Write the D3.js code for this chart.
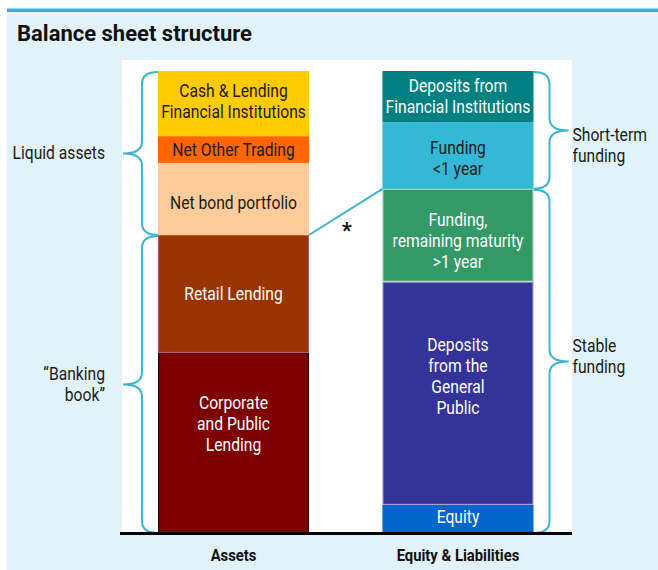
<!DOCTYPE html>
<html>
<head>
<meta charset="utf-8">
<script src="https://cdn.jsdelivr.net/npm/d3@7"></script>
<style>
  body { margin: 0; background: #fff; }
  svg text { font-family: Roboto, "Liberation Sans", sans-serif; }
</style>
</head>
<body>
<div id="root"></div>
<script>
// columns on the x axis
const columns = ['Assets', 'Equity & Liabilities'];

// assets, bottom to top (share of balance sheet, %)
const assetCategories = ['Corporate and Public Lending', 'Retail Lending', 'Net bond portfolio', 'Net Other Trading', 'Cash & Lending Financial Institutions'];
const assetValues = [39, 25.5, 15.6, 5.8, 14.1];
const assetLabels = [['Corporate', 'and Public', 'Lending'], ['Retail Lending'], ['Net bond portfolio'], ['Net Other Trading'], ['Cash & Lending', 'Financial Institutions']];

// equity & liabilities, bottom to top
const liabilityCategories = ['Equity', 'Deposits from the General Public', 'Funding, remaining maturity >1 year', 'Funding <1 year', 'Deposits from Financial Institutions'];
const liabilityValues = [6.1, 48.3, 20.1, 14.4, 11.1];
const liabilityLabels = [['Equity'], ['Deposits', 'from the', 'General', 'Public'], ['Funding,', 'remaining maturity', '>1 year'], ['Funding', '<1 year'], ['Deposits from', 'Financial Institutions']];

// brace groups (index range of segments)
const assetGroups = [{ lines: ['\u201CBanking', 'book\u201D'], first: 0, last: 1 }, { lines: ['Liquid assets'], first: 2, last: 4 }];
const liabilityGroups = [{ lines: ['Stable', 'funding'], first: 0, last: 2 }, { lines: ['Short-term', 'funding'], first: 3, last: 4 }];

const colors = {
  'Corporate and Public Lending': '#7f0000',
  'Retail Lending': '#993300',
  'Net bond portfolio': '#ffcc99',
  'Net Other Trading': '#ff6600',
  'Cash & Lending Financial Institutions': '#ffcc00',
  'Equity': '#0066cc',
  'Deposits from the General Public': '#333399',
  'Funding, remaining maturity >1 year': '#339966',
  'Funding <1 year': '#33b8d6',
  'Deposits from Financial Institutions': '#008080'
};
// thin outlines some of the blocks have in the original
const edges = {
  'Corporate and Public Lending': '#1a0000',
  'Retail Lending': '#b0507a',
  'Deposits from the General Public': '#a0a0dd',
  'Funding, remaining maturity >1 year': '#a8d8bc'
};
const darkText = ['Net bond portfolio', 'Net Other Trading', 'Cash & Lending Financial Institutions', 'Funding <1 year'];
// small vertical tweaks of the in-bar labels
const labelNudge = {
  'Corporate and Public Lending': -19,
  'Net bond portfolio': 4,
  'Cash & Lending Financial Institutions': -2,
  'Equity': -2,
  'Deposits from the General Public': -17,
  'Funding, remaining maturity >1 year': 5,
  'Funding <1 year': 3
};
const braceColor = '#3ab5d3';
const squeeze = 0.87; // narrow the glyphs, the original uses a condensed face

const width = 658, height = 570;

const svg = d3.select('#root').append('svg')
  .attr('width', width)
  .attr('height', height);

function condense(sel) {
  sel.each(function () {
    const w = this.getComputedTextLength();
    d3.select(this).attr('textLength', w * squeeze).attr('lengthAdjust', 'spacingAndGlyphs');
  });
}

// frame
svg.append('rect').attr('x', 7).attr('y', 12).attr('width', width - 7).attr('height', height - 12).attr('fill', '#e1f3f8');
svg.append('rect').attr('x', 7).attr('y', 8.5).attr('width', width - 7).attr('height', 3.5).attr('fill', '#33b5d1');
svg.append('text')
  .attr('x', 17).attr('y', 41)
  .attr('font-size', 22).attr('font-weight', 'bold').attr('fill', '#111')
  .text('Balance sheet structure');

const y = d3.scaleLinear().domain([0, 100]).range([533, 71]);
const x = d3.scaleBand().domain(columns).range([158, 533.5]).paddingInner(0.327);

svg.append('rect').attr('x', 122).attr('y', 60).attr('width', 450).attr('height', y(0) - 60).attr('fill', '#fff');

function stack(col, cats, vals, labels) {
  let acc = 0;
  return cats.map((c, i) => {
    const d = { col, cat: c, y0: acc, y1: acc + vals[i], lines: labels[i] };
    acc += vals[i];
    return d;
  });
}
const assets = stack(columns[0], assetCategories, assetValues, assetLabels);
const liabilities = stack(columns[1], liabilityCategories, liabilityValues, liabilityLabels);
const segments = assets.concat(liabilities);

svg.append('g').selectAll('rect')
  .data(segments)
  .join('rect')
  .attr('x', d => x(d.col) + (edges[d.cat] ? 0.5 : 0))
  .attr('y', d => y(d.y1) + (edges[d.cat] ? 0.5 : 0))
  .attr('width', d => x.bandwidth() - (edges[d.cat] ? 1 : 0))
  .attr('height', d => y(d.y0) - y(d.y1) - (edges[d.cat] ? 1 : 0))
  .attr('fill', d => colors[d.cat])
  .attr('stroke', d => edges[d.cat] || 'none')
  .attr('stroke-width', 1);

// segment labels, one text per line
const lineH = 21;
const lines = [];
segments.forEach(d => {
  const cy = (y(d.y0) + y(d.y1)) / 2 + (labelNudge[d.cat] || 0) - (d.lines.length - 1) * lineH / 2;
  d.lines.forEach((l, i) => lines.push({ text: l, cat: d.cat, x: x(d.col) + x.bandwidth() / 2, y: cy + i * lineH }));
});
svg.append('g').selectAll('text')
  .data(lines)
  .join('text')
  .attr('x', d => d.x)
  .attr('y', d => d.y)
  .attr('dy', '0.35em')
  .attr('text-anchor', 'middle')
  .attr('font-size', 18)
  .attr('fill', d => darkText.includes(d.cat) ? '#1a1a1a' : '#fff')
  .text(d => d.text)
  .call(condense);

// braces
function bracePath(xe, y0, y1, dir) {
  const xs = xe + dir * 16, xt = xe + dir * 35, r = 12, ym = (y0 + y1) / 2;
  return `M${xe},${y0} Q${xs},${y0} ${xs},${y0 + r} L${xs},${ym - r} Q${xs},${ym} ${xt},${ym}` +
    ` Q${xs},${ym} ${xs},${ym + r} L${xs},${y1 - r} Q${xs},${y1} ${xe},${y1}`;
}
const groupNudge = { 'Short-term': 15, 'Stable': -5 };
function drawGroups(groups, stackData, side) {
  const col = stackData[0].col;
  const xe = side < 0 ? x(col) : x(col) + x.bandwidth();
  groups.forEach(g => {
    const top = y(stackData[g.last].y1), bot = y(stackData[g.first].y0);
    svg.append('path')
      .attr('d', bracePath(xe, top + 1, bot, side))
      .attr('fill', 'none')
      .attr('stroke', braceColor)
      .attr('stroke-width', 2);
    const tipX = xe + side * 35;
    const cy = (top + bot) / 2 + (groupNudge[g.lines[0]] || 0) - (g.lines.length - 1) * lineH / 2;
    svg.append('g').selectAll('text')
      .data(g.lines)
      .join('text')
      .attr('x', side < 0 ? tipX - 18 : tipX + 4)
      .attr('y', (l, i) => cy + i * lineH)
      .attr('dy', '0.35em')
      .attr('text-anchor', side < 0 ? 'end' : 'start')
      .attr('font-size', 18)
      .attr('fill', '#1a1a1a')
      .text(l => l)
      .call(condense);
  });
}
drawGroups(assetGroups, assets, -1);
drawGroups(liabilityGroups, liabilities, 1);

// connector between "banking book" top and stable funding top
const y1 = y(assets[assetGroups[0].last].y1);
const y2 = y(liabilities[liabilityGroups[0].last].y1);
const xa = x(columns[0]) + x.bandwidth(), xb = x(columns[1]);
svg.append('line')
  .attr('x1', xa).attr('y1', y1).attr('x2', xb).attr('y2', y2)
  .attr('stroke', braceColor).attr('stroke-width', 2);
svg.append('text')
  .attr('x', (xa + xb) / 2 + 1).attr('y', (y1 + y2) / 2 + 26)
  .attr('text-anchor', 'middle')
  .attr('font-size', 22).attr('font-weight', 'bold').attr('fill', '#111')
  .text('*');

// baseline and axis
svg.append('line')
  .attr('x1', 120).attr('x2', 572).attr('y1', y(0) + 0.5).attr('y2', y(0) + 0.5)
  .attr('stroke', '#000').attr('stroke-width', 3);
svg.append('g')
  .attr('transform', `translate(0,${y(0)})`)
  .call(d3.axisBottom(x).tickSize(0).tickPadding(16))
  .call(g => g.select('.domain').remove())
  .attr('font-family', null)
  .selectAll('text')
  .attr('font-size', 17)
  .attr('font-weight', 'bold')
  .attr('fill', '#111')
  .call(condense);
</script>
</body>
</html>
